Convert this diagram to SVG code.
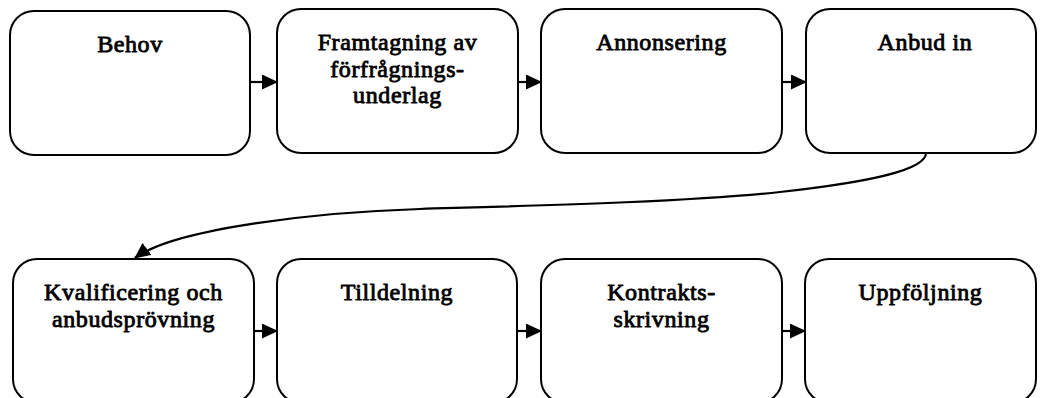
<svg xmlns="http://www.w3.org/2000/svg" width="1040" height="398" viewBox="0 0 1040 398">
  <style>
    .box { fill: #ffffff; stroke: #000000; stroke-width: 2; }
    .lbl { font-family: "Liberation Serif", "Times New Roman", serif; font-weight: 400; font-size: 24px; fill: #000000; stroke: #000000; stroke-width: 0.85; stroke-linejoin: round; letter-spacing: 0.6px; text-anchor: middle; }
    .conn { fill: none; stroke: #000000; stroke-width: 2.2; }
  </style>
  <defs>
    <marker id="arrow" viewBox="0 0 16 15" refX="15" refY="7.5" markerWidth="16" markerHeight="15" markerUnits="userSpaceOnUse" orient="auto">
      <path d="M0,0 L16,7.5 L0,15 z" fill="#000000"/>
    </marker>
  </defs>
  <rect width="1040" height="398" fill="#ffffff"/>

  <g id="n1">
    <rect class="box" x="10" y="11" width="240" height="144" rx="24" ry="24"/>
    <text class="lbl" x="130" y="52">Behov</text>
  </g>
  <g id="n2">
    <rect class="box" x="277" y="9" width="241" height="144" rx="24" ry="24"/>
    <text class="lbl" x="397.5" y="50">Framtagning av</text>
    <text class="lbl" x="397.5" y="77">förfrågnings-</text>
    <text class="lbl" x="397.5" y="103">underlag</text>
  </g>
  <g id="n3">
    <rect class="box" x="541" y="9" width="241" height="144" rx="24" ry="24"/>
    <text class="lbl" x="661.5" y="50">Annonsering</text>
  </g>
  <g id="n4">
    <rect class="box" x="806" y="9" width="230" height="144" rx="24" ry="24"/>
    <text class="lbl" x="925" y="50">Anbud in</text>
  </g>
  <g id="n5">
    <rect class="box" x="13" y="259" width="241" height="144" rx="24" ry="24"/>
    <text class="lbl" x="133.5" y="300">Kvalificering och</text>
    <text class="lbl" x="133.5" y="327">anbudsprövning</text>
  </g>
  <g id="n6">
    <rect class="box" x="277" y="259" width="240" height="144" rx="24" ry="24"/>
    <text class="lbl" x="397" y="300">Tilldelning</text>
  </g>
  <g id="n7">
    <rect class="box" x="541" y="259" width="241" height="144" rx="24" ry="24"/>
    <text class="lbl" x="661.5" y="300">Kontrakts-</text>
    <text class="lbl" x="661.5" y="327">skrivning</text>
  </g>
  <g id="n8">
    <rect class="box" x="805" y="259" width="231" height="144" rx="24" ry="24"/>
    <text class="lbl" x="920.5" y="300">Uppföljning</text>
  </g>

  <g id="connectors">
    <line class="conn" x1="250" y1="82" x2="277" y2="82" marker-end="url(#arrow)"/>
    <line class="conn" x1="518" y1="82" x2="541" y2="82" marker-end="url(#arrow)"/>
    <line class="conn" x1="782" y1="82" x2="806" y2="82" marker-end="url(#arrow)"/>
    <path class="conn" d="M926,153 C926,170 870,182 780,192 S520,206 420,209 S175,228 135,258" marker-end="url(#arrow)"/>
    <line class="conn" x1="254" y1="331" x2="277" y2="331" marker-end="url(#arrow)"/>
    <line class="conn" x1="517" y1="331" x2="541" y2="331" marker-end="url(#arrow)"/>
    <line class="conn" x1="782" y1="331" x2="805" y2="331" marker-end="url(#arrow)"/>
  </g>
</svg>
